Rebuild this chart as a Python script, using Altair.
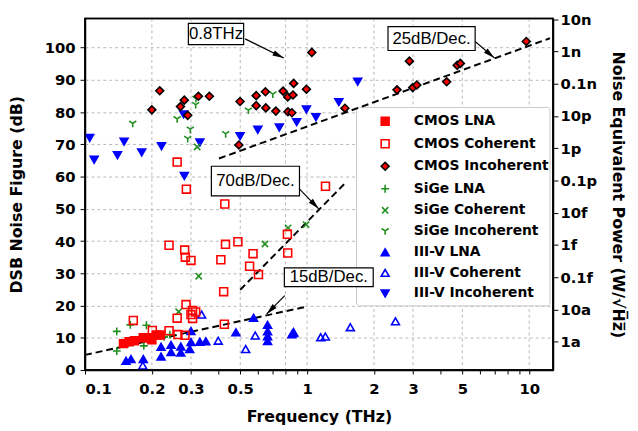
import math
import altair as alt
import pandas as pd

# ---------------- data ----------------
series_order = ["CMOS LNA", "CMOS Coherent", "CMOS Incoherent",
                "SiGe LNA", "SiGe Coherent", "SiGe Incoherent",
                "III-V LNA", "III-V Coherent", "III-V Incoherent"]

cmos_lna_f = [0.149, 0.158, 0.167, 0.183, 0.192, 0.200, 0.209, 0.218]
cmos_lna_nf = [8.2, 8.8, 9.1, 10.0, 10.0, 9.4, 10.9, 10.9]

cmos_coh_f = [0.165, 0.201, 0.239, 0.262, 0.282, 0.260, 0.285, 0.305, 0.315, 0.305,
              0.300, 0.260, 0.286, 0.426, 1.21, 0.239, 0.281, 0.283, 0.300, 0.409,
              0.429, 0.488, 0.551, 0.571, 0.604, 0.815, 0.818, 0.421, 0.424]
cmos_coh_nf = [15.4, 12.3, 12.2, 11.0, 10.8, 16.1, 20.3, 18.5, 18.0, 16.0,
               17.2, 64.5, 56.1, 51.5, 57.0, 38.7, 37.2, 35.0, 34.0, 34.2,
               39.0, 39.8, 32.2, 36.1, 29.6, 42.1, 36.3, 24.3, 14.2]

cmos_inc_f = [0.200, 0.217, 0.269, 0.280, 0.290, 0.324, 0.363, 0.499, 0.493, 0.590,
              0.590, 0.649, 0.652, 0.723, 0.780, 0.818, 0.864, 0.870, 0.820, 0.854,
              0.993, 1.05, 1.48, 2.54, 2.89, 2.99, 3.12, 4.25, 4.74, 4.90, 9.7]
cmos_inc_nf = [80.7, 86.6, 81.7, 83.7, 79.0, 84.9, 84.9, 83.3, 69.8, 85.1,
               82.0, 86.3, 81.3, 80.3, 86.5, 84.7, 85.3, 88.9, 80.1, 79.8,
               87.1, 98.5, 81.2, 86.9, 95.8, 87.6, 88.4, 89.4, 94.5, 95.1, 101.9]

sige_lna_f = [0.139, 0.139, 0.160, 0.156, 0.189, 0.184, 0.227, 0.241]
sige_lna_nf = [12.0, 5.9, 14.0, 8.2, 13.9, 7.5, 10.3, 11.0]

sige_coh_f = [0.264, 0.325, 0.646, 0.821, 0.990, 0.320]
sige_coh_nf = [18.1, 29.1, 39.1, 44.1, 45.1, 69.2]

sige_inc_f = [0.164, 0.260, 0.315, 0.316, 0.298, 0.290, 0.430, 0.544, 0.701]
sige_inc_nf = [76.5, 77.9, 82.3, 84.2, 74.7, 71.8, 73.3, 80.6, 85.6]

iiiv_lna_f = [0.153, 0.161, 0.183, 0.220, 0.220, 0.244, 0.244, 0.270, 0.270, 0.296,
              0.300, 0.300, 0.329, 0.350, 0.478, 0.574, 0.664, 0.664, 0.664, 0.664,
              0.854, 0.870]
iiiv_lna_nf = [2.9, 3.4, 3.4, 7.2, 4.2, 7.8, 5.6, 7.3, 5.4, 6.5,
               8.7, 12.1, 8.8, 8.9, 11.7, 16.2, 14.0, 12.0, 10.5, 9.0,
               11.1, 11.5]

iiiv_coh_f = [0.182, 0.335, 0.398, 0.529, 0.584, 0.868, 1.152, 1.208, 1.566, 2.50]
iiiv_coh_nf = [1.4, 17.2, 9.1, 6.5, 10.7, 11.8, 10.2, 10.4, 13.3, 15.1]

iiiv_inc_f = [0.105, 0.110, 0.140, 0.150, 0.180, 0.221, 0.278, 0.280, 0.329, 0.499,
              0.600, 0.750, 0.898, 0.993, 1.096, 1.39, 1.69]
iiiv_inc_nf = [72.0, 65.2, 66.6, 70.8, 67.5, 69.4, 79.3, 60.2, 70.6, 72.5,
               74.5, 75.2, 76.9, 80.8, 78.4, 83.1, 89.4]

# dashed trend lines: id, start/end frequency, start/end NF
trend_id = ["25dB", "70dB", "15dB"]
trend_f0 = [0.401, 0.50, 0.10]
trend_f1 = [12.4, 1.49, 1.00]
trend_nf0 = [65.6, 24.9, 4.7]
trend_nf1 = [102.9, 58.1, 19.7]

# annotation boxes, labels and arrows
ann_label = ["0.8THz", "25dB/Dec.", "70dB/Dec.", "15dB/Dec."]
ann_x0 = [0.292, 2.314, 0.3707, 0.790]
ann_x1 = [0.518, 5.71, 0.924, 1.985]
ann_y0 = [100.9, 99.1, 54.0, 25.9]
ann_y1 = [107.5, 106.5, 63.2, 31.7]
arrow_tail_f = [0.526, 5.71, 0.925, 0.793]
arrow_tail_nf = [102.7, 101.9, 56.1, 23.1]
arrow_head_f = [0.785, 6.97, 1.128, 0.658]
arrow_head_nf = [96.8, 96.8, 50.0, 17.4]

# axes
x_domain = [0.1, 12.8]
y_domain = [0, 109]
x_tick_values = [0.1, 0.2, 0.3, 0.4, 0.5, 0.6, 0.7, 0.8, 0.9,
                 1, 2, 3, 4, 5, 6, 7, 8, 9, 10]
x_label_values = [0.1, 0.2, 0.3, 0.5, 1, 2, 3, 5, 10]
x_grid_values = [0.2, 0.3, 0.5, 0.8, 1, 2, 3, 5, 10]
y_tick_values = [0, 10, 20, 30, 40, 50, 60, 70, 80, 90, 100]
nep_positions = [8.8, 18.8, 28.8, 38.8, 48.8, 58.8, 68.8, 78.8, 88.8, 98.8, 108.8]
nep_labels = ["1a", "10a", "0.1f", "1f", "10f", "0.1p", "1p", "10p", "0.1n", "1n", "10n"]

# ---------------- styling ----------------
W, H = 474, 356
RED, GREEN, BLUE = "#ff0000", "#1f8f1f", "#0000ff"
PLUS = "M-1,0L1,0M0,-1L0,1"
XMARK = "M-0.8,-0.8L0.8,0.8M-0.8,0.8L0.8,-0.8"
YMARK = "M0,0L0,1M0,0L-0.9,-0.6M0,0L0.9,-0.6"
ARROWHEAD = "M0,0L0.5,2L-0.5,2Z"

shape_range = ["square", "square", "diamond", PLUS, XMARK, YMARK,
               "triangle-up", "triangle-up", "triangle-down"]
fill_range = [RED, "transparent", RED, "transparent", "transparent", "transparent",
              BLUE, "transparent", BLUE]
stroke_range = [RED, RED, "black", GREEN, GREEN, GREEN, BLUE, BLUE, BLUE]
size_range = [64, 64, 135, 110, 85, 110, 95, 95, 95]

FONT_B = "DejaVu Sans"

# ---------------- tables ----------------
groups = [
    ("III-V LNA", iiiv_lna_f, iiiv_lna_nf),
    ("III-V Coherent", iiiv_coh_f, iiiv_coh_nf),
    ("III-V Incoherent", iiiv_inc_f, iiiv_inc_nf),
    ("SiGe LNA", sige_lna_f, sige_lna_nf),
    ("SiGe Coherent", sige_coh_f, sige_coh_nf),
    ("SiGe Incoherent", sige_inc_f, sige_inc_nf),
    ("CMOS Coherent", cmos_coh_f, cmos_coh_nf),
    ("CMOS LNA", cmos_lna_f, cmos_lna_nf),
    ("CMOS Incoherent", cmos_inc_f, cmos_inc_nf),
]
rows = []
for name, fs, nfs in groups:
    for f, nf in zip(fs, nfs):
        rows.append({"series": name, "f": f, "nf": nf})
pts = pd.DataFrame(rows)

trend_rows = []
for i, tid in enumerate(trend_id):
    trend_rows.append({"id": tid, "f": trend_f0[i], "nf": trend_nf0[i]})
    trend_rows.append({"id": tid, "f": trend_f1[i], "nf": trend_nf1[i]})
trends = pd.DataFrame(trend_rows)

px_per_dec = W / math.log10(x_domain[1] / x_domain[0])
px_per_db = H / (y_domain[1] - y_domain[0])
angles = []
for i in range(len(ann_label)):
    dx = px_per_dec * (math.log10(arrow_head_f[i]) - math.log10(arrow_tail_f[i]))
    dy = -px_per_db * (arrow_head_nf[i] - arrow_tail_nf[i])
    angles.append(math.degrees(math.atan2(dx, -dy)) % 360)

ann = pd.DataFrame({
    "label": ann_label,
    "x0": ann_x0, "x1": ann_x1, "y0": ann_y0, "y1": ann_y1,
    "xc": [math.sqrt(a * b) for a, b in zip(ann_x0, ann_x1)],
    "yc": [(a + b) / 2 for a, b in zip(ann_y0, ann_y1)],
    "tf": arrow_tail_f, "tnf": arrow_tail_nf,
    "hf": arrow_head_f, "hnf": arrow_head_nf,
    "ang": angles,
})

xs = alt.Scale(type="log", domain=x_domain, nice=False)
ys = alt.Scale(domain=y_domain, nice=False, zero=False)

# ---------------- layers ----------------
xgrid = alt.Chart(pd.DataFrame({"g": x_grid_values})).mark_rule(
    color="#b8b8b8", strokeDash=[3, 3], strokeWidth=1
).encode(x=alt.X("g:Q", scale=xs, axis=None))

legend_bg = alt.Chart(pd.DataFrame({"k": [0]})).mark_rect(
    fill="white", stroke="#c8c8c8", strokeWidth=1, cornerRadius=3
).encode(x=alt.value(275), x2=alt.value(471), y=alt.value(90), y2=alt.value(291))

lines = alt.Chart(trends).mark_line(
    color="black", strokeDash=[7, 4], strokeWidth=2
).encode(
    x=alt.X("f:Q", scale=xs, axis=None),
    y=alt.Y("nf:Q", scale=ys, axis=None),
    detail="id:N",
)

legend = alt.Legend(
    title=None, orient="none", legendX=275, legendY=90,
    padding=7, rowPadding=6.8, symbolOffset=15, labelOffset=22,
    labelFont=FONT_B, labelFontSize=14, labelFontWeight="bold",
    labelColor="black", symbolStrokeWidth=1.6, labelLimit=200,
)

x_axis = alt.Axis(
    orient="bottom", values=x_tick_values, format="~g",
    labelExpr="indexof(" + str(x_label_values) + ", datum.value) >= 0 ? datum.label : ''",
    grid=False, tickSize=4, tickColor="black", labelPadding=8,
    title="Frequency (THz)", titlePadding=12,
)
y_axis = alt.Axis(
    orient="left", values=y_tick_values, grid=True, gridDash=[3, 3], gridColor="#b8b8b8",
    tickSize=5, tickColor="black", labelPadding=5,
    title="DSB Noise Figure (dB)", titlePadding=20,
)

points = alt.Chart(pts).mark_point(opacity=1, strokeWidth=1.6).encode(
    x=alt.X("f:Q", scale=xs, axis=x_axis),
    y=alt.Y("nf:Q", scale=ys, axis=y_axis),
    shape=alt.Shape("series:N", scale=alt.Scale(domain=series_order, range=shape_range), legend=legend),
    fill=alt.Fill("series:N", scale=alt.Scale(domain=series_order, range=fill_range), legend=legend),
    stroke=alt.Stroke("series:N", scale=alt.Scale(domain=series_order, range=stroke_range), legend=legend),
    size=alt.Size("series:N", scale=alt.Scale(domain=series_order, range=size_range), legend=legend),
)

arrows = alt.Chart(ann).mark_rule(color="black", strokeWidth=1.2).encode(
    x=alt.X("tf:Q", scale=xs, axis=None), x2="hf:Q",
    y=alt.Y("tnf:Q", scale=ys, axis=None), y2="hnf:Q",
)
heads = alt.Chart(ann).mark_point(
    shape=ARROWHEAD, filled=True, color="black", opacity=1, size=130
).encode(
    x=alt.X("hf:Q", scale=xs, axis=None),
    y=alt.Y("hnf:Q", scale=ys, axis=None),
    angle=alt.Angle("ang:Q", scale=None),
)
boxes = alt.Chart(ann).mark_rect(fill="white", stroke="black", strokeWidth=1.2).encode(
    x=alt.X("x0:Q", scale=xs, axis=None), x2="x1:Q",
    y=alt.Y("y0:Q", scale=ys, axis=None), y2="y1:Q",
)
labels = alt.Chart(ann).mark_text(
    font="Liberation Sans", fontSize=17, color="black", align="center", baseline="middle"
).encode(
    x=alt.X("xc:Q", scale=xs, axis=None),
    y=alt.Y("yc:Q", scale=ys, axis=None),
    text="label:N",
)

right = alt.Chart(pd.DataFrame({"p": nep_positions})).mark_point(opacity=0).encode(
    x=alt.X("p:Q", scale=xs, axis=None),
    y=alt.Y("p:Q", scale=ys, axis=alt.Axis(
        orient="right", values=nep_positions,
        labelExpr="['" + "','".join(nep_labels) + "'][round((datum.value - 8.8) / 10)]",
        grid=False, tickSize=5, tickColor="black", labelPadding=2,
        title="Noise Equivalent Power (W/\u221aH\u0305z\u0305)", titlePadding=13,
    )),
)

frame = alt.Chart(pd.DataFrame({"k": [0]})).mark_rect(
    fill="transparent", stroke="black", strokeWidth=1.5
).encode(x=alt.value(0), x2=alt.value(W), y=alt.value(0), y2=alt.value(H))

chart = alt.layer(
    xgrid, legend_bg, lines, points, arrows, heads, boxes, labels, right, frame
).resolve_axis(x="independent", y="independent").properties(
    width=W, height=H,
    padding={"left": 78, "top": 8, "right": 78, "bottom": 58},
    autosize=alt.AutoSizeParams(type="none"),
).configure_view(
    stroke="black", strokeWidth=1.5
).configure_axis(
    labelFont=FONT_B, labelFontSize=15, labelFontWeight="bold", labelColor="black",
    titleFont=FONT_B, titleFontSize=16, titleFontWeight="bold", titleColor="black",
    domainColor="black", domainWidth=1.5,
)

chart.save("out.html", embed_options={"renderer": "svg", "actions": False})
